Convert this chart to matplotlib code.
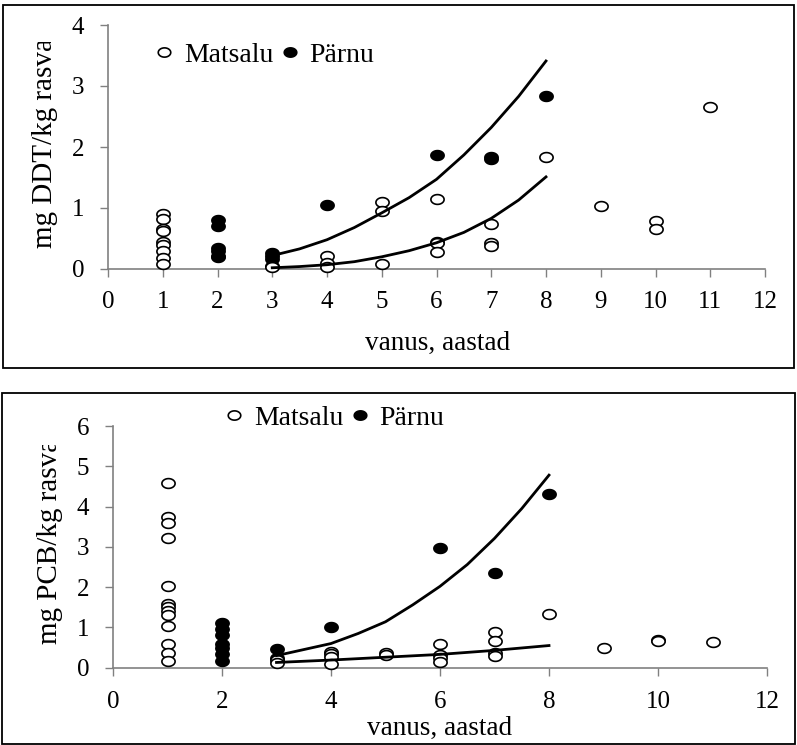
import matplotlib
matplotlib.use("Agg")
import matplotlib.pyplot as plt
import numpy as np
from matplotlib.path import Path
from matplotlib.patches import Rectangle
from matplotlib.transforms import Bbox, TransformedBbox
from matplotlib.lines import Line2D

plt.rcParams['font.family'] = ['Liberation Serif', 'DejaVu Serif']

# ---------------- DDT (top) ----------------
ddt_m_age = [1]*9 + [3]*2 + [4]*3 + [5]*3 + [6]*4 + [7]*3 + [8] + [9] + [10]*2 + [11]
ddt_m_val = [0.90, 0.82, 0.65, 0.62, 0.45, 0.40, 0.30, 0.18, 0.09,
             0.05, 0.03,
             0.22, 0.10, 0.04,
             1.10, 0.95, 0.09,
             1.15, 0.45, 0.42, 0.28,
             0.74, 0.43, 0.37,
             1.83,
             1.04,
             0.79, 0.66,
             2.65]
ddt_p_age = [2]*6 + [3]*3 + [4] + [6] + [7]*2 + [8]
ddt_p_val = [0.80, 0.70, 0.35, 0.30, 0.22, 0.20,
             0.27, 0.22, 0.17,
             1.05,
             1.87,
             1.83, 1.80,
             2.84]
fit_x = [3, 3.5, 4, 4.5, 5, 5.5, 6, 6.5, 7, 7.5, 8]
ddt_fit_p = [0.22, 0.33, 0.48, 0.68, 0.92, 1.17, 1.47, 1.87, 2.32, 2.83, 3.41]
ddt_fit_m = [0.02, 0.04, 0.07, 0.12, 0.20, 0.30, 0.43, 0.60, 0.83, 1.13, 1.51]

# ---------------- PCB (bottom) ----------------
pcb_m_age = [1]*13 + [3]*2 + [4]*4 + [5]*2 + [6]*4 + [7]*4 + [8] + [9] + [10]*2 + [11]
pcb_m_val = [4.58, 3.75, 3.60, 3.21, 2.03, 1.57, 1.50, 1.40, 1.30, 1.04, 0.59, 0.37, 0.17,
             0.19, 0.12,
             0.40, 0.34, 0.27, 0.10,
             0.37, 0.31,
             0.60, 0.31, 0.23, 0.15,
             0.89, 0.67, 0.37, 0.29,
             1.33,
             0.48,
             0.70, 0.67,
             0.63]
pcb_p_age = [2]*7 + [3]*2 + [4] + [6] + [7] + [8]
pcb_p_val = [1.10, 0.95, 0.80, 0.60, 0.50, 0.35, 0.17,
             0.46, 0.23,
             1.00,
             2.96,
             2.36,
             4.30]
pcb_fit_p = [0.30, 0.45, 0.60, 0.85, 1.14, 1.56, 2.02, 2.56, 3.21, 3.95, 4.78]
pcb_fit_x2 = [3, 4, 5, 6, 7, 8]
pcb_fit_m = [0.13, 0.19, 0.26, 0.33, 0.43, 0.55]

legend_labels = ["Matsalu", "Pärnu"]
xlabel = "vanus, aastad"
ylabel_top = "mg DDT/kg rasvas"
ylabel_bot = "mg PCB/kg rasvas"

W, H = 797, 745
fig = plt.figure(figsize=(W/100, H/100), dpi=100)

# ellipse marker (slightly wider than tall)
t = np.linspace(0, 2*np.pi, 60)
ell = Path(np.column_stack([np.cos(t), 0.74*np.sin(t)]), closed=True)

def fx(px): return px / W
def fy(py): return 1 - py / H

# frames
fig.patches.append(Rectangle((fx(3), fy(368)), fx(794)-fx(3), fy(5)-fy(368),
                             transform=fig.transFigure, fill=False, lw=1.3, ec='black'))
fig.patches.append(Rectangle((fx(2), fy(744)), fx(795)-fx(2), fy(393)-fy(744),
                             transform=fig.transFigure, fill=False, lw=1.3, ec='black'))

def setup(ax, ymax, xstep, xpad):
    ax.set_xlim(0, 12)
    ax.set_ylim(0, ymax)
    for s in ['top', 'right']:
        ax.spines[s].set_visible(False)
    for s in ['left', 'bottom']:
        ax.spines[s].set_color('#808080')
        ax.spines[s].set_linewidth(1.2)
    ax.set_xticks(np.arange(0, 13, xstep))
    ax.set_yticks(np.arange(0, ymax + 1, 1))
    ax.tick_params(axis='both', direction='out', length=6, width=1.0, color='#808080',
                   labelsize=18)
    ax.tick_params(axis='x', pad=xpad)
    ax.tick_params(axis='y', pad=11)
    ax.patch.set_alpha(0)

def scatter(ax, age_m, val_m, age_p, val_p):
    ax.plot(age_p, val_p, linestyle='none', marker=ell, markersize=9.5, mfc='black',
            mec='black', mew=1.2, clip_on=False, zorder=3)
    ax.plot(age_m, val_m, linestyle='none', marker=ell, markersize=9.5, mfc='white',
            mec='black', mew=1.2, clip_on=False, zorder=4)

# top
ax1 = fig.add_axes([fx(108), fy(269), fx(765)-fx(108), fy(25)-fy(269)])
setup(ax1, 4, 1, 10)
scatter(ax1, ddt_m_age, ddt_m_val, ddt_p_age, ddt_p_val)
ax1.plot(fit_x, ddt_fit_p, color='black', lw=2.0, zorder=5, clip_on=False)
ax1.plot(fit_x, ddt_fit_m, color='black', lw=2.0, zorder=5, clip_on=False)

# bottom
ax2 = fig.add_axes([fx(113), fy(667.7), fx(767)-fx(113), fy(426)-fy(667.7)])
setup(ax2, 6, 2, 11)
scatter(ax2, pcb_m_age, pcb_m_val, pcb_p_age, pcb_p_val)
ax2.plot(fit_x, pcb_fit_p, color='black', lw=2.0, zorder=5, clip_on=False)
ax2.plot(pcb_fit_x2, pcb_fit_m, color='black', lw=2.0, zorder=5, clip_on=False)

# legends
handles = [Line2D([], [], linestyle='none', marker=ell, markersize=9, mfc='white', mec='black', mew=1.2),
           Line2D([], [], linestyle='none', marker=ell, markersize=9, mfc='black', mec='black', mew=1.2)]
for (lx, ly) in [(156, 55), (226, 418)]:
    fig.legend(handles, legend_labels, loc='center left', bbox_to_anchor=(fx(lx), fy(ly)),
               ncol=2, frameon=False, fontsize=20, handlelength=0.6, handletextpad=0.4,
               columnspacing=0.3, borderpad=0, borderaxespad=0)

# x labels
fig.text(fx(438), fy(343), xlabel, ha='center', va='center', fontsize=19.5)
fig.text(fx(440), fy(728), xlabel, ha='center', va='center', fontsize=19.5)

# clipped y labels
def ylab(text, xc, ybot, yclip):
    tx = fig.text(fx(xc), fy(ybot), text, rotation=90, ha='center', va='bottom', fontsize=21)
    bb = Bbox.from_extents(0, fy(ybot) - 0.05, 1, fy(yclip))
    tx.set_clip_box(TransformedBbox(bb, fig.transFigure))
    tx.set_clip_on(True)

ylab(ylabel_top, 45, 248, 42)
ylab(ylabel_bot, 50, 644, 445)

fig.savefig("out.png", dpi=100)
